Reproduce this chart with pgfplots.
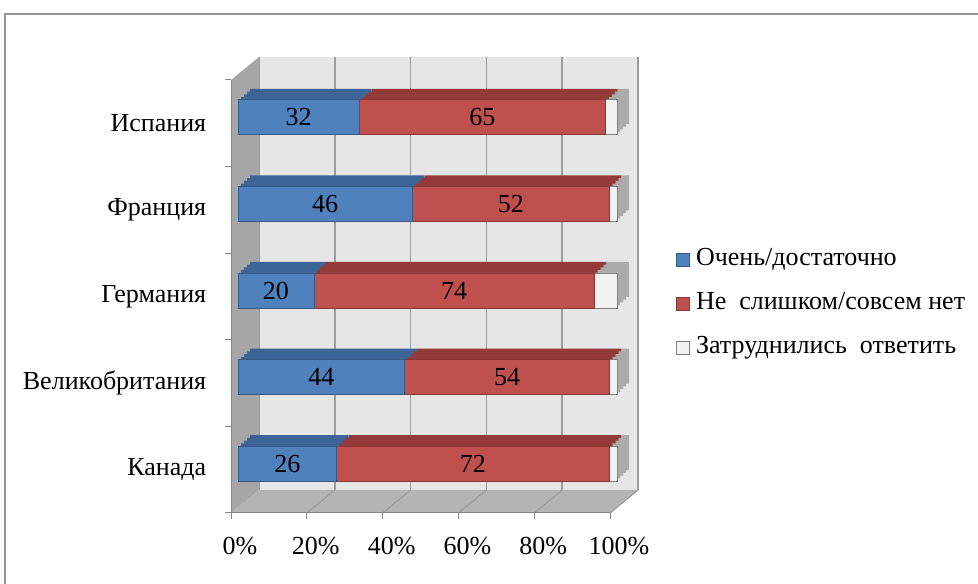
\documentclass[border=0pt]{standalone}
\usepackage{pgfplots}
\pgfplotsset{compat=1.18}
\usepackage{pgfplotstable}
\usepackage{fontspec}
\setmainfont{Liberation Serif}

\definecolor{cblue}{HTML}{4F81BD}
\definecolor{cred}{HTML}{C0504D}
\definecolor{cwhite}{HTML}{F2F2F2}
\definecolor{tblue}{HTML}{3D6496}
\definecolor{tred}{HTML}{943B39}
\definecolor{tgrey}{HTML}{ABABAB}
\definecolor{wall}{HTML}{E6E6E6}
\definecolor{side}{HTML}{A6A6A6}
\definecolor{floorc}{HTML}{B4B4B4}
\definecolor{gridc}{HTML}{9C9C9C}
\definecolor{axisc}{HTML}{868686}

% share of answers, %
\pgfplotstableread{
c yes no dk
0 26 72 2
1 44 54 2
2 20 74 6
3 46 52 2
4 32 65 3
}\data

\pgfplotsset{
  slab/.style={
    scale only axis, width=379bp, height=433bp,
    xmin=0, xmax=100, ymin=-0.5, ymax=4.5,
    anchor=south west, clip=false,
  },
  bars/.style={slab, hide axis, xbar stacked, bar width=35bp},
}

% darker copies behind the front faces give the 3D top and side
\newcommand\copybars[2]{%
  \begin{axis}[bars, at={(#1,#2)}]
    \addplot[fill=tblue, draw=none] table[x=yes,y=c]{\data};
    \addplot[fill=tred, draw=none] table[x=no,y=c]{\data};
    \addplot[fill=tgrey, draw=none] table[x=dk,y=c]{\data};
  \end{axis}}

\begin{document}
\fontsize{26bp}{31bp}\selectfont
\begin{tikzpicture}[x=1bp,y=1bp]
\useasboundingbox (0,0) rectangle (978,584);
\draw[gray!85, line width=1.5bp] (5,-20) -- (5,570) -- (1000,570);

% back wall
\begin{axis}[slab, at={(259bp,94bp)},
    axis background/.style={fill=wall},
    axis line style={draw=none},
    xtick={0,20,...,100}, ytick=\empty, xticklabels={}, major tick length=0pt,
    xmajorgrids, major grid style={gridc, line width=1.5bp}]
  \addplot[draw=none] coordinates {(0,0)};
\end{axis}

% left wall and floor
\fill[side] (231,71) -- (231,504) -- (259,527) -- (259,94) -- cycle;
\fill[floorc] (231,71) -- (610,71) -- (638,94) -- (259,94) -- cycle;
\foreach \k in {1,...,5}
  \draw[gridc, line width=1.2bp] ({231+75.8*\k},71) -- ({259+75.8*\k},94);

% front axis lines, ticks and labels
\begin{axis}[slab, at={(231bp,71bp)},
    axis x line*=bottom, axis y line*=left,
    axis line style={draw=axisc, line width=1bp},
    tick align=outside, major tick length=6bp,
    tick style={draw=axisc, line width=1bp},
    xtick={0,20,...,100}, xticklabels={0\%,20\%,40\%,60\%,80\%,100\%},
    xticklabel style={xshift=9bp, yshift=-9bp},
    ytick={-0.5,0.5,...,4.5}, yticklabels={},
    extra y ticks={0,1,2,3,4},
    extra y tick labels={Канада,Великобритания,Германия,Франция,Испания},
    extra y tick style={major tick length=0pt, yticklabel style={xshift=-16bp}}]
  \addplot[draw=none] coordinates {(0,0)};
\end{axis}

\copybars{250bp}{88bp}
\copybars{247bp}{85.25bp}
\copybars{244bp}{82.5bp}
\copybars{241bp}{79.75bp}

% front faces
\begin{axis}[bars, at={(238bp,77bp)},
    /pgf/number format/assume math mode=true,
    legend image code/.code={\draw[#1, line width=0.8bp] (0bp,-6.5bp) rectangle (13bp,6.5bp);},
    legend cell align=left,
    legend style={at={(1.1557,0.469)}, anchor=west, draw=none, fill=none,
      inner sep=0pt, row sep=21bp,
      nodes={inner sep=0pt, text height=17bp, text depth=6bp},
      /tikz/every odd column/.append style={column sep=6bp}},
    point meta=explicit,
    every node near coord/.append style={anchor=center, black}]
  \addplot[fill=cblue, draw=cblue!70!black, line width=0.6bp, nodes near coords]
    table[x=yes,y=c,meta=yes]{\data};
  \addplot[fill=cred, draw=cred!70!black, line width=0.6bp, nodes near coords]
    table[x=no,y=c,meta=no]{\data};
  \addplot[fill=cwhite, draw=gray, line width=0.6bp]
    table[x=dk,y=c,meta=dk]{\data};
  \legend{Очень/достаточно, Не~ слишком/совсем нет, Затруднились~ ответить}
\end{axis}
\end{tikzpicture}
\end{document}
